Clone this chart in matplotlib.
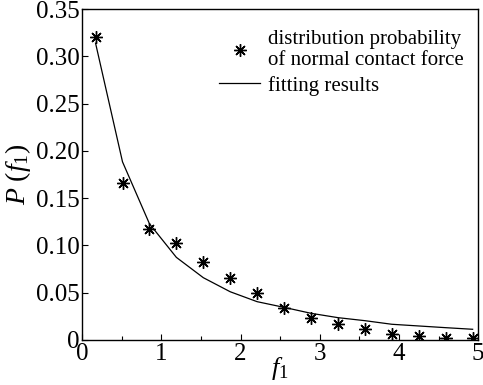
import matplotlib
matplotlib.use('Agg')
import matplotlib.pyplot as plt
from matplotlib.ticker import MultipleLocator, FuncFormatter

plt.rcParams['font.family'] = ['Liberation Serif', 'DejaVu Serif']
plt.rcParams['mathtext.fontset'] = 'custom'
plt.rcParams['mathtext.rm'] = 'Liberation Serif'
plt.rcParams['mathtext.it'] = 'Liberation Serif:italic'

# measured distribution and fitted curve
f1 = [0.17, 0.51, 0.85, 1.19, 1.53, 1.87, 2.21, 2.55, 2.89, 3.23, 3.57, 3.91, 4.25, 4.59, 4.93]
prob = [0.321, 0.166, 0.117, 0.103, 0.083, 0.066, 0.050, 0.0335, 0.0236, 0.0165,
        0.0113, 0.006, 0.0042, 0.0025, 0.002]
fit = [0.314, 0.1885, 0.123, 0.0874, 0.0659, 0.051, 0.0405, 0.0345, 0.0282, 0.0236,
       0.0204, 0.0166, 0.0148, 0.013, 0.0113]

fig = plt.figure(figsize=(4.83, 3.85), dpi=100)
ax = fig.add_axes([0.170, 0.117, 0.820, 0.859])

ax.plot(f1, fit, color='black', lw=0.9, label='fitting results')
ax.plot(f1, prob, ls='none', marker=(8, 2, 0), ms=9, mew=1.0, color='black',
        label='distribution probability\nof normal contact force')

ax.set_xlim(0, 5)
ax.set_ylim(0, 0.35)
ax.xaxis.set_major_locator(MultipleLocator(1))
ax.xaxis.set_minor_locator(MultipleLocator(0.5))
ax.yaxis.set_major_locator(MultipleLocator(0.05))
ax.yaxis.set_major_formatter(FuncFormatter(lambda v, p: '0' if abs(v) < 1e-9 else '%.2f' % v))
ax.tick_params(which='both', direction='in', top=False, right=False, labelsize=18, pad=2)
ax.tick_params(which='major', length=4, width=0.8)
ax.tick_params(which='minor', length=3, width=0.8)
for s in ax.spines.values():
    s.set_linewidth(1.0)

ax.set_xlabel('$f_1$', fontsize=19, labelpad=-7)
ax.set_ylabel('$P\\ (f_1)$', fontsize=20, labelpad=2)

h, l = ax.get_legend_handles_labels()
ax.legend([h[1], h[0]], [l[1], l[0]], loc='upper right', frameon=False, fontsize=15,
          handlelength=2.0, handletextpad=0.35, labelspacing=0.25,
          bbox_to_anchor=(1.01, 0.995))

fig.savefig('out.png', dpi=100)
